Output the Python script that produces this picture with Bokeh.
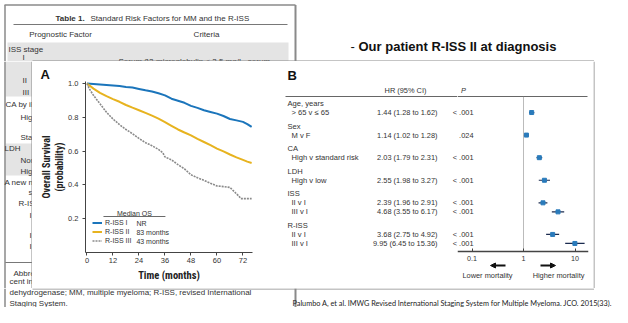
from bokeh.plotting import figure
from bokeh.models import (Range1d, Legend, LegendItem, FixedTicker,
                          PrintfTickFormatter, CustomJSTickFormatter, Arrow, NormalHead)
from bokeh.layouts import column, row
from bokeh.core.properties import value
from bokeh.embed import file_html
from bokeh.resources import INLINE

SANS = "Liberation Sans"
NARROW = "Liberation Sans Narrow, Roboto Condensed, DejaVu Sans Condensed, Liberation Sans"
CITE = "Lato"

# ---------------- data: panel A (Kaplan-Meier, overall survival) ----------------
km_months = [0, 3, 6, 9, 12, 15, 18, 21, 24, 27, 30, 33, 36, 39, 42, 45, 48, 51, 54,
             57, 60, 63, 66, 69, 72, 74, 76]
surv_riss1 = [1.0, 0.997, 0.994, 0.991, 0.988, 0.985, 0.980, 0.976, 0.968, 0.960, 0.953,
              0.942, 0.930, 0.910, 0.898, 0.886, 0.868, 0.856, 0.842, 0.832, 0.822, 0.808,
              0.790, 0.782, 0.773, 0.760, 0.743]
surv_riss2 = [1.0, 0.970, 0.945, 0.925, 0.908, 0.892, 0.873, 0.857, 0.842, 0.826, 0.810,
              0.792, 0.772, 0.750, 0.728, 0.710, 0.693, 0.673, 0.654, 0.635, 0.615, 0.598,
              0.580, 0.563, 0.548, 0.538, 0.530]
km_months3 = [0, 1, 3, 6, 9, 12, 15, 18, 21, 24, 27, 30, 33, 35, 36, 39, 42, 45, 48, 51,
              54, 57, 60, 63, 66, 68, 70, 71, 76]
surv_riss3 = [1.0, 0.970, 0.930, 0.880, 0.830, 0.790, 0.757, 0.728, 0.703, 0.675, 0.650,
              0.632, 0.610, 0.590, 0.566, 0.548, 0.520, 0.495, 0.460, 0.442, 0.427, 0.410,
              0.394, 0.390, 0.385, 0.360, 0.335, 0.319, 0.319]
stage_labels = ["R-ISS I", "R-ISS II", "R-ISS III"]
median_os = ["NR", "83 months", "43 months"]
month_ticks = [0, 12, 24, 36, 48, 60, 72]
surv_ticks = [0.2, 0.4, 0.6, 0.8, 1.0]

# ---------------- data: panel B (hazard ratios) ----------------
factor_groups = ["Age, years", "Sex", "CA", "LDH", "ISS", "R-ISS"]
comparisons = [["> 65 v \u2264 65"], ["M v F"], ["High v standard risk"], ["High v low"],
               ["II v I", "III v I"], ["II v I", "III v I"]]
hr = [1.44, 1.14, 2.03, 2.55, 2.39, 4.68, 3.68, 9.95]
hr_lo = [1.28, 1.02, 1.79, 1.98, 1.96, 3.55, 2.75, 6.45]
hr_hi = [1.62, 1.28, 2.31, 3.27, 2.91, 6.17, 4.92, 15.36]
p_values = ["< .001", ".024", "< .001", "< .001", "< .001", "< .001", "< .001", "< .001"]
hr_ticks = [0.1, 1, 10]

# ---------------- slide texts ----------------
slide_title = "Our patient R-ISS II at diagnosis"
citation = ("Palumbo A, et al. IMWG Revised International Staging System for "
            "Multiple Myeloma. JCO. 2015(33).")

EDGE = "#8a8a8a"
BAND = "#e4e4e4"
INK = "#333333"
TAB = "8px"


def style_fig(f):
    f.grid.visible = False
    f.outline_line_color = None
    f.background_fill_color = "white"
    f.border_fill_color = "white"
    f.frame_align = False


def canvas(w, h):
    f = figure(width=w, height=h, x_range=Range1d(0, w), y_range=Range1d(h, 0),
               output_backend="svg", toolbar_location=None,
               x_axis_location=None, y_axis_location=None, min_border=0)
    style_fig(f)
    return f


def txt(f, xs, ys, texts, size="7.4px", color=INK, align="left", style="normal",
        font=SANS, **kw):
    f.text(x=xs, y=ys, text=texts, text_font=value(font), text_font_size=size,
           text_color=color, text_align=align, text_baseline="middle",
           text_font_style=style, **kw)


def seg(f, x0, y0, x1, y1, color=EDGE, width=1.0, dash="solid"):
    f.segment(x0=[x0], y0=[y0], x1=[x1], y1=[y1], line_color=color,
              line_width=width, line_dash=dash)


TOP_H, MID_H, BOT_H = 61, 227, 19
LEFT_W, A_W, BT_W, BF_W, RIGHT_W = 32, 248, 177, 136, 19

# ================= top strip (table header + slide title) =================
top = canvas(612, TOP_H)
top.quad(left=[7], right=[288], top=[42], bottom=[TOP_H], fill_color=BAND, line_color=None)
seg(top, 4, 4.5, 295, 4.5, width=1.5)
seg(top, 4.5, 4.5, 4.5, TOP_H, width=1.5)
seg(top, 295, 4.5, 295, TOP_H, width=2)
seg(top, 13, 24, 287, 24, color="#555", width=0.8)
txt(top, [55], [18], ["Table 1."], style="bold", size=TAB)
txt(top, [90], [18], ["Standard Risk Factors for MM and the R-ISS"], size=TAB)
txt(top, [60], [34], ["Prognostic Factor"], align="center", size=TAB)
txt(top, [206], [34], ["Criteria"], align="center", size=TAB)
txt(top, [8], [49], ["ISS stage"], size=TAB)
txt(top, [22], [57], ["I"], size=TAB)
txt(top, [118], [60.5], ["Serum \u03b22-microglobulin < 3.5 mg/L, serum"], size=TAB)
txt(top, [350], [46], ["-"], size="13px", color="#111")
txt(top, [358], [46], [slide_title], size="13px", style="bold", color="#111")
seg(top, 32, 60.5, 593.5, 60.5)

# ================= left strip (table rows, mostly hidden) =================
left = canvas(LEFT_W, MID_H)
left.quad(left=[5, 5], right=[LEFT_W, LEFT_W], top=[0, 82], bottom=[35, 114],
          fill_color=BAND, line_color=None)
seg(left, 4.5, 0, 4.5, MID_H, width=1.5)
txt(left, [22, 22], [19, 31], ["II", "III"], size=TAB)
txt(left, [5], [43], ["CA by iFISH"], size=TAB)
txt(left, [20, 20], [56, 76], ["High risk", "Standard risk"], size=TAB)
txt(left, [4], [87], ["LDH"], size=TAB)
txt(left, [20, 20], [99, 110], ["Normal", "High"], size=TAB)
txt(left, [4], [121], ["A new model for risk stratification for MM"], size=TAB)
txt(left, [28], [131], ["stage"], size=TAB)
txt(left, [18], [142], ["R-ISS stage"], size=TAB)
txt(left, [29, 29, 29], [154, 174, 185], ["I", "II", "III"], size=TAB)
seg(left, 5, 201, LEFT_W, 201, color="#555", width=0.8)
txt(left, [13], [212], ["Abbreviations"], size=TAB)
txt(left, [9], [220], ["cent interphase"], size=TAB)
txt(left, [9], [229], ["dehydrogenase"], size=TAB)
seg(left, 31.5, 0, 31.5, MID_H)

# ================= panel A: Kaplan-Meier =================
pa = figure(width=A_W, height=MID_H, x_range=Range1d(-0.69, 76.4), y_range=Range1d(0, 1.012),
            output_backend="svg", toolbar_location=None,
            min_border_left=53, min_border_right=28, min_border_top=20, min_border_bottom=36)
style_fig(pa)

r1 = pa.line(km_months, surv_riss1, line_color="#1b75bb", line_width=2)
r2 = pa.line(km_months, surv_riss2, line_color="#e7b31f", line_width=2)
r3 = pa.line(km_months3, surv_riss3, line_color="#8a8a8a", line_width=1.6, line_dash="2 1")

for ax in (pa.xaxis[0], pa.yaxis[0]):
    ax.axis_line_color = "#444"
    ax.major_tick_line_color = "#444"
    ax.major_tick_out = 3
    ax.major_tick_in = 0
    ax.minor_tick_out = 0
    ax.minor_tick_in = 0
    ax.major_label_text_font = SANS
    ax.major_label_text_font_size = "7.5px"
    ax.major_label_text_color = INK
    ax.axis_label_text_font = NARROW
    ax.axis_label_text_font_style = "bold"
    ax.axis_label_text_color = "#222"
    ax.axis_label_text_font_size = "10px"
pa.xaxis.ticker = FixedTicker(ticks=month_ticks, minor_ticks=[])
pa.yaxis.ticker = FixedTicker(ticks=surv_ticks, minor_ticks=[])
pa.yaxis.formatter = PrintfTickFormatter(format="%.1f")
pa.xaxis.major_label_standoff = 2
pa.yaxis.major_label_standoff = 4
pa.xaxis.axis_label = "Time (months)"
pa.xaxis.axis_label_text_font_size = "10.5px"
pa.xaxis.axis_label_standoff = 3
pa.yaxis.axis_label = "Overall Survival\n(probability)"
pa.yaxis.axis_label_standoff = 0

pa.title.text = "A"
pa.title.align = "left"
pa.title.offset = -45
pa.title.standoff = 0
pa.title.text_font = SANS
pa.title.text_font_size = "13px"
pa.title.text_font_style = "bold"
pa.title.text_color = "#111"

legend = Legend(items=[LegendItem(label=lab, renderers=[r])
                       for lab, r in zip(stage_labels, (r1, r2, r3))],
                location=(7, 7), orientation="vertical",
                background_fill_alpha=0, border_line_color=None,
                label_text_font=SANS, label_text_font_size="7px", label_text_color=INK,
                glyph_width=10, glyph_height=9, label_height=9, label_standoff=3,
                spacing=0, padding=0, margin=0)
pa.add_layout(legend)

px_to_y = 1.012 / 171.0
med_y = [(7 + 9 * (len(median_os) - 1 - i) + 4.5) * px_to_y for i in range(len(median_os))]
txt(pa, [22.8] * len(median_os), med_y, median_os, size="7px")
txt(pa, [21.9], [39 * px_to_y], ["Median OS"], size="7px", align="center")
seg(pa, 7.6, 36 * px_to_y, 36.2, 36 * px_to_y, color="#444", width=0.8)

# ================= panel B: hazard ratio table + forest =================
PX_ROW = 9.03
def row_pos(py):
    return (py - 103.0) / PX_ROW

y_range_b = Range1d(row_pos(287), row_pos(64))
axis_y = row_pos(251)

label_y, label_x, label_txt, item_y = [], [], [], []
r = 0
for g, (grp, comps) in enumerate(zip(factor_groups, comparisons)):
    label_y.append(r + 0.5 * g); label_x.append(7); label_txt.append(grp)
    r += 1
    for c in comps:
        label_y.append(r + 0.5 * g); label_x.append(11); label_txt.append(c)
        item_y.append(r + 0.5 * g)
        r += 1

hr_text = [f"{h:.2f} ({lo:.2f} to {hi:.2f})" for h, lo, hi in zip(hr, hr_lo, hr_hi)]

bt = figure(width=BT_W, height=MID_H, x_range=Range1d(0, BT_W), y_range=y_range_b,
            output_backend="svg", toolbar_location=None, y_axis_location=None,
            min_border_left=0, min_border_right=0, min_border_top=3, min_border_bottom=1)
style_fig(bt)
# an invisible twin of the forest axis so that both frames reserve the same space
bt.xaxis.fixed_location = axis_y
bt.xaxis.ticker = FixedTicker(ticks=[50], minor_ticks=[])
bt.xaxis.axis_line_color = None
bt.xaxis.major_tick_line_color = None
bt.xaxis.minor_tick_line_color = None
bt.xaxis.major_label_text_color = None
bt.xaxis.major_label_text_font_size = "7.2px"
bt.xaxis.major_label_standoff = 4
bt.xaxis.major_tick_in = 3
bt.xaxis.major_tick_out = 0

txt(bt, [7], [row_pos(75)], ["B"], size="13px", style="bold", color="#111")
txt(bt, [125], [row_pos(90)], ["HR (95% CI)"], align="center")
seg(bt, 5, row_pos(96), BT_W, row_pos(96), color="#666", width=1)
txt(bt, label_x, label_y, label_txt, size="7.6px")
txt(bt, [157] * len(hr_text), item_y, hr_text, align="right")
# p-values straddle the two frames: each frame shows its own part
txt(bt, [193] * len(p_values), item_y, p_values, align="right")

X1_PX, DEC_PX = 523.0, 51.5
def hr_at(px):
    return 10 ** ((px - X1_PX) / DEC_PX)

bf = figure(width=BF_W, height=MID_H, x_range=Range1d(hr_at(457), hr_at(588)),
            y_range=y_range_b, x_axis_type="log", y_axis_location=None,
            output_backend="svg", toolbar_location=None,
            min_border_left=0, min_border_right=5, min_border_top=3, min_border_bottom=1)
style_fig(bf)
x0 = hr_at(457)
txt(bf, [x0], [row_pos(90)], ["P"], align="center", style="italic", x_offset=6)
seg(bf, x0, row_pos(96), hr_at(587), row_pos(96), color="#666", width=1)
txt(bf, [x0] * len(p_values), item_y, p_values, align="right", x_offset=16)
seg(bf, 1, row_pos(96), 1, axis_y, color="#777", width=1, dash="1 1")
bf.segment(x0=hr_lo, y0=item_y, x1=hr_hi, y1=item_y, line_color="#1b2b4f", line_width=1.2)
bf.scatter(hr, item_y, marker="square", size=4, fill_color="#2a7bbb", line_color="#2a7bbb")

xa = bf.xaxis[0]
xa.fixed_location = axis_y
xa.ticker = FixedTicker(ticks=hr_ticks, minor_ticks=[])
xa.formatter = CustomJSTickFormatter(code="return tick.toString()")
xa.axis_line_color = "#444"
xa.axis_line_width = 1.5
xa.major_tick_line_color = "#444"
xa.major_tick_in = 3
xa.major_tick_out = 0
xa.minor_tick_in = 0
xa.minor_tick_out = 0
xa.major_label_standoff = 4
xa.major_label_text_font = SANS
xa.major_label_text_font_size = "7.2px"
xa.major_label_text_color = INK

arrow_y = row_pos(265)
head = dict(size=5, fill_color="#111", line_color="#111")
bf.add_layout(Arrow(end=NormalHead(**head), x_start=hr_at(505), y_start=arrow_y,
                    x_end=hr_at(490), y_end=arrow_y, line_width=2, line_color="#111"))
bf.add_layout(Arrow(end=NormalHead(**head), x_start=hr_at(540), y_start=arrow_y,
                    x_end=hr_at(555), y_end=arrow_y, line_width=2, line_color="#111"))
txt(bf, [hr_at(487), hr_at(558)], [row_pos(275)] * 2,
    ["Lower mortality", "Higher mortality"], align="center")

# ================= right strip =================
right = canvas(RIGHT_W, MID_H)
seg(right, 0.5, 0, 0.5, MID_H)

# ================= bottom strip =================
bot = canvas(612, BOT_H)
seg(bot, 32, 0.5, 593.5, 0.5)
seg(bot, 4.5, 0, 4.5, BOT_H, width=1.5)
seg(bot, 295, 0, 295, BOT_H, width=2)
txt(bot, [9], [3.5], ["dehydrogenase; MM, multiple myeloma; R-ISS, revised International"],
    size=TAB)
txt(bot, [9], [14.5], ["Staging System."], size=TAB)
txt(bot, [292], [15], [citation], font=CITE, size="7.3px", color="#222")

layout = column(top, row(left, pa, bt, bf, right), bot)
open("out.html", "w").write(file_html(layout, INLINE))
